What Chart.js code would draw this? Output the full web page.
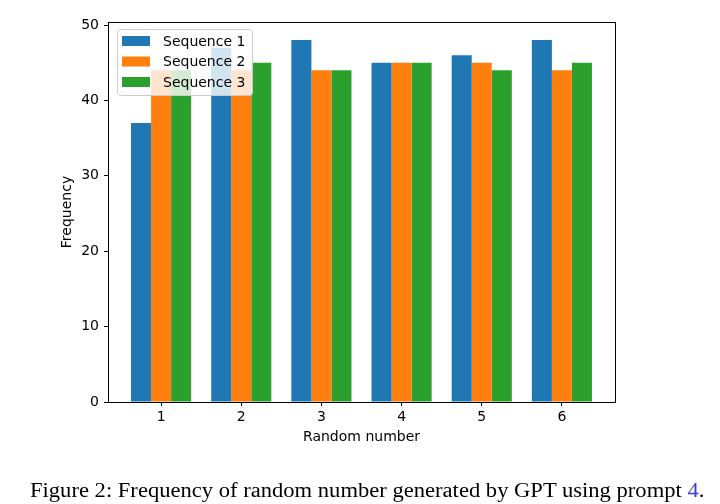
<!DOCTYPE html>
<html>
<head>
<meta charset="utf-8">
<script src="https://cdn.jsdelivr.net/npm/chart.js@4"></script>
<style>
  body { margin: 0; background: #fff; }
  #wrap { position: relative; width: 720px; height: 504px; overflow: hidden; }
  #caption {
    position: absolute; left: 30px; top: 479px;
    font-family: "Liberation Serif", "DejaVu Serif", serif; font-size: 20px;
    white-space: nowrap; transform-origin: 0 0; color: #000;
  }
  #caption .ref { color: #3b3bd6; }
</style>
</head>
<body>
<div id="wrap">
  <canvas id="chart" width="720" height="504"></canvas>
  <div id="caption">Figure 2: Frequency of random number generated by GPT using prompt <span class="ref">4</span>.</div>
</div>
<script>
// Data
const categories = [1, 2, 3, 4, 5, 6];
const seq1 = [37, 47, 48, 45, 46, 48];
const seq2 = [44, 44, 44, 45, 45, 44];
const seq3 = [44, 45, 44, 45, 44, 45];
const seriesNames = ['Sequence 1', 'Sequence 2', 'Sequence 3'];
const yTicks = [0, 10, 20, 30, 40, 50];

const colors = ['#1f77b4', '#ff7f0e', '#2ca02c'];
const font = "'DejaVu Sans', sans-serif";

// Caption stretched to the width of the original
const cap = document.getElementById('caption');
cap.style.transform = `scaleX(${674 / cap.offsetWidth})`;

// Box around the axes + matplotlib-style legend
const framePlugin = {
    id: 'frame',
    afterDatasetsDraw(chart) {
        const { ctx, chartArea: a } = chart;
        ctx.save();
        ctx.strokeStyle = '#000';
        ctx.lineWidth = 1;
        ctx.strokeRect(a.left + 0.5, a.top + 0.5, a.right - a.left, a.bottom - a.top);

        // legend
        const x = a.left + 9, y = a.top + 7, w = 135, h = 66;
        ctx.fillStyle = 'rgba(255,255,255,0.8)';
        ctx.strokeStyle = '#cccccc';
        ctx.beginPath();
        ctx.roundRect(x + 0.5, y + 0.5, w, h, 3);
        ctx.fill();
        ctx.stroke();
        ctx.font = `14px ${font}`;
        ctx.textBaseline = 'middle';
        chart.data.datasets.forEach((ds, i) => {
            const cy = y + 12 + i * 20.5;
            ctx.fillStyle = ds.backgroundColor;
            ctx.fillRect(x + 5, cy - 5, 28, 10);
            ctx.fillStyle = '#000';
            ctx.fillText(ds.label, x + 46, cy + 1);
        });
        ctx.restore();
    }
};

new Chart(document.getElementById('chart'), {
    type: 'bar',
    data: {
        datasets: [seq1, seq2, seq3].map((d, i) => ({
            label: seriesNames[i],
            data: d.map((v, j) => ({ x: categories[j], y: v })),
            backgroundColor: colors[i],
            borderWidth: 0,
            categoryPercentage: 0.75,
            barPercentage: 1.0
        }))
    },
    options: {
        responsive: false,
        animation: false,
        layout: { padding: { left: 59, right: 105, top: 22, bottom: 58 } },
        plugins: { legend: { display: false }, tooltip: { enabled: false } },
        scales: {
            x: {
                type: 'linear',
                offset: false,
                min: 0.3375,
                max: 6.6625,
                afterBuildTicks(s) { s.ticks = categories.map(v => ({ value: v })); },
                grid: { display: true, offset: false, drawOnChartArea: false, drawTicks: true, tickLength: 4, color: '#000' },
                border: { display: true, color: '#000' },
                ticks: { color: '#000', font: { family: font, size: 14 }, padding: 3, maxRotation: 0 },
                title: { display: true, text: 'Random number', color: '#000', font: { family: font, size: 14 }, padding: { top: 2, bottom: 0 } },
                afterFit(s) { s.height = 44; }
            },
            y: {
                min: 0,
                max: 50.4,
                afterBuildTicks(s) { s.ticks = yTicks.map(v => ({ value: v })); },
                grid: { display: true, drawOnChartArea: false, drawTicks: true, tickLength: 4, color: '#000' },
                border: { display: true, color: '#000' },
                ticks: { color: '#000', font: { family: font, size: 14 }, padding: 5 },
                title: { display: true, text: 'Frequency', color: '#000', font: { family: font, size: 14 }, padding: { top: 0, bottom: 4 } },
                afterFit(s) { s.width = 49; }
            }
        }
    },
    plugins: [framePlugin]
});
</script>
</body>
</html>
